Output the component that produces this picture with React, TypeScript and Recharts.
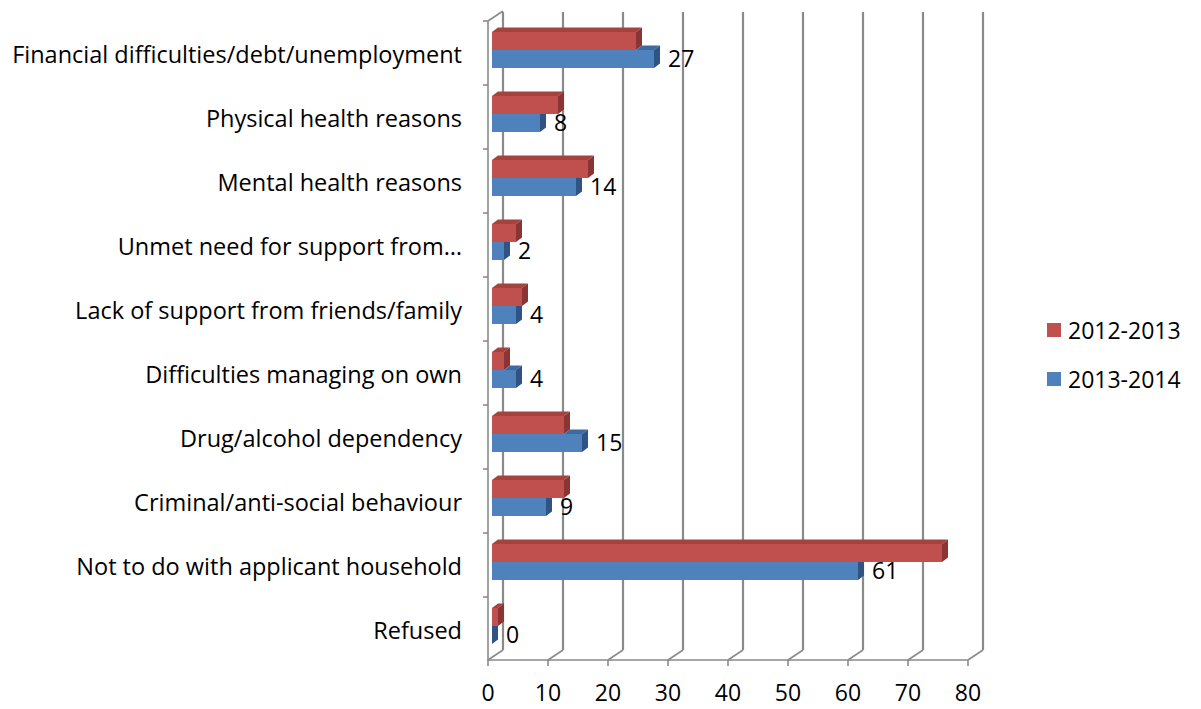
import { Bar, BarChart, CartesianGrid, LabelList, Legend, XAxis, YAxis } from 'recharts'

const causes = [
  'Financial difficulties/debt/unemployment',
  'Physical health reasons',
  'Mental health reasons',
  'Unmet need for support from…',
  'Lack of support from friends/family',
  'Difficulties managing on own',
  'Drug/alcohol dependency',
  'Criminal/anti-social behaviour',
  'Not to do with applicant household',
  'Refused',
]
const values2012 = [24, 11, 16, 4, 5, 2, 12, 12, 75, 1]
const values2013 = [27, 8, 14, 2, 4, 4, 15, 9, 61, 0]
const xTicks = [0, 10, 20, 30, 40, 50, 60, 70, 80]

const data = causes.map((cause, i) => ({
  cause,
  y2012: values2012[i],
  y2013: values2013[i],
}))

const FONT = '"Open Sans", sans-serif'
const GRID = '#8a8a8a'
const PLOT_LEFT = 492
// depth of the 3d bars and of the walls
const DX = 6
const DY = 4.5
const WX = 15
const WY = 10

function RedBar(props: any) {
  const { x, y, width, height } = props
  const r = x + width
  return (
    <g>
      <rect x={x} y={y} width={width} height={height} fill='#C0504D' />
      <polygon points={`${x},${y} ${x + DX},${y - DY} ${r + DX},${y - DY} ${r},${y}`} fill='#A3423F' />
      <polygon points={`${r},${y} ${r + DX},${y - DY} ${r + DX},${y + height - DY} ${r},${y + height}`} fill='#8A3533' />
    </g>
  )
}

// blue sits under the red bar, so its top face is hidden where red is longer
function BlueBar(props: any) {
  const { x, y, width, height, payload } = props
  const b = payload.y2013
  const red = payload.y2012
  const unit = b > 0 ? width / b : 0
  const redW = red * unit
  const covered = red > b
  const r = x + width
  return (
    <g>
      <rect x={x} y={y} width={width} height={height} fill='#4F81BD' />
      {!covered && (
        <polygon
          points={`${x + redW},${y} ${x + redW + DX},${y - DY} ${r + DX},${y - DY} ${r},${y}`}
          fill='#3E6AA0'
        />
      )}
      <polygon
        points={
          covered
            ? `${r},${y} ${r + DX},${y} ${r + DX},${y + height - DY} ${r},${y + height}`
            : `${r},${y} ${r + DX},${y - DY} ${r + DX},${y + height - DY} ${r},${y + height}`
        }
        fill='#2F5382'
      />
    </g>
  )
}

function wallLine(props: any) {
  const { x1, y1, y2 } = props
  const bx = x1 - 4 + WX
  return (
    <g key={`wall-${x1}`}>
      <line x1={bx} y1={y1 - 6} x2={bx} y2={y2 - 8} stroke={GRID} strokeWidth={2.2} />
      <line x1={x1 - 4} y1={y2 + 2} x2={bx} y2={y2 - 8} stroke={GRID} strokeWidth={1.6} />
    </g>
  )
}

function XTick({ x, y, payload }: any) {
  return (
    <text x={x - 4} y={y} dy='0.71em' textAnchor='middle' fontFamily={FONT} fontSize={23} fill='#000'>
      {payload.value}
    </text>
  )
}

function YTick({ y, payload, index }: any) {
  const half = typeof payload.offset === 'number' && payload.offset > 0 ? payload.offset : 32
  const ax = PLOT_LEFT - 4
  const top = y - half + 3
  const bottom = y + half + 3
  return (
    <g>
      <text
        x={PLOT_LEFT - 30}
        y={y + 7}
        textAnchor='end'
        dominantBaseline='middle'
        fontFamily={FONT}
        fontSize={23.5}
        fill='#000'
      >
        {payload.value}
      </text>
      <line x1={ax} y1={top} x2={ax} y2={bottom} stroke={GRID} strokeWidth={1.6} />
      <line x1={ax - 5} y1={top} x2={ax} y2={top} stroke={GRID} strokeWidth={1.6} />
      {index === 0 && <line x1={ax} y1={top} x2={ax + WX} y2={top - WY} stroke={GRID} strokeWidth={1.6} />}
    </g>
  )
}

function LegendContent({ payload }: any) {
  return (
    <div style={{ fontFamily: FONT, fontSize: 23, color: '#000' }}>
      {(payload ?? []).map((p: any) => (
        <div key={p.value} style={{ display: 'flex', alignItems: 'center', height: 49 }}>
          <span style={{ display: 'inline-block', width: 14, height: 14, background: p.color, marginRight: 7 }} />
          {p.value}
        </div>
      ))}
    </div>
  )
}

export default function App() {
  return (
    <div style={{ position: 'absolute', left: 0, top: 0, background: '#fff' }}>
      <BarChart
        width={1201}
        height={709}
        data={data}
        layout='vertical'
        barGap={0}
        margin={{ top: 18, right: 229, bottom: 11, left: 0 }}
      >
        <CartesianGrid horizontal={false} vertical={wallLine} />
        <XAxis
          type='number'
          domain={[0, 80]}
          ticks={xTicks}
          interval={0}
          height={40}
          tickSize={6}
          tickMargin={21}
          axisLine={{ stroke: GRID, strokeWidth: 1.6, transform: 'translate(-4 2)' }}
          tickLine={{ stroke: GRID, strokeWidth: 1.6, transform: 'translate(-4 2)' }}
          tick={<XTick />}
        />
        <YAxis
          type='category'
          dataKey='cause'
          width={PLOT_LEFT}
          axisLine={false}
          tickLine={false}
          interval={0}
          tick={<YTick />}
        />
        <Legend
          layout='vertical'
          align='center'
          verticalAlign='middle'
          content={<LegendContent />}
          wrapperStyle={{ left: 1047, top: 305, width: 160 }}
        />
        <Bar dataKey='y2012' name='2012-2013' fill='#C0504D' barSize={18} shape={<RedBar />} isAnimationActive={false} />
        <Bar dataKey='y2013' name='2013-2014' fill='#4F81BD' barSize={18} shape={<BlueBar />} isAnimationActive={false}>
          <LabelList dataKey='y2013' position='right' offset={14} fontFamily={FONT} fontSize={23} fill='#000' />
        </Bar>
      </BarChart>
    </div>
  )
}
